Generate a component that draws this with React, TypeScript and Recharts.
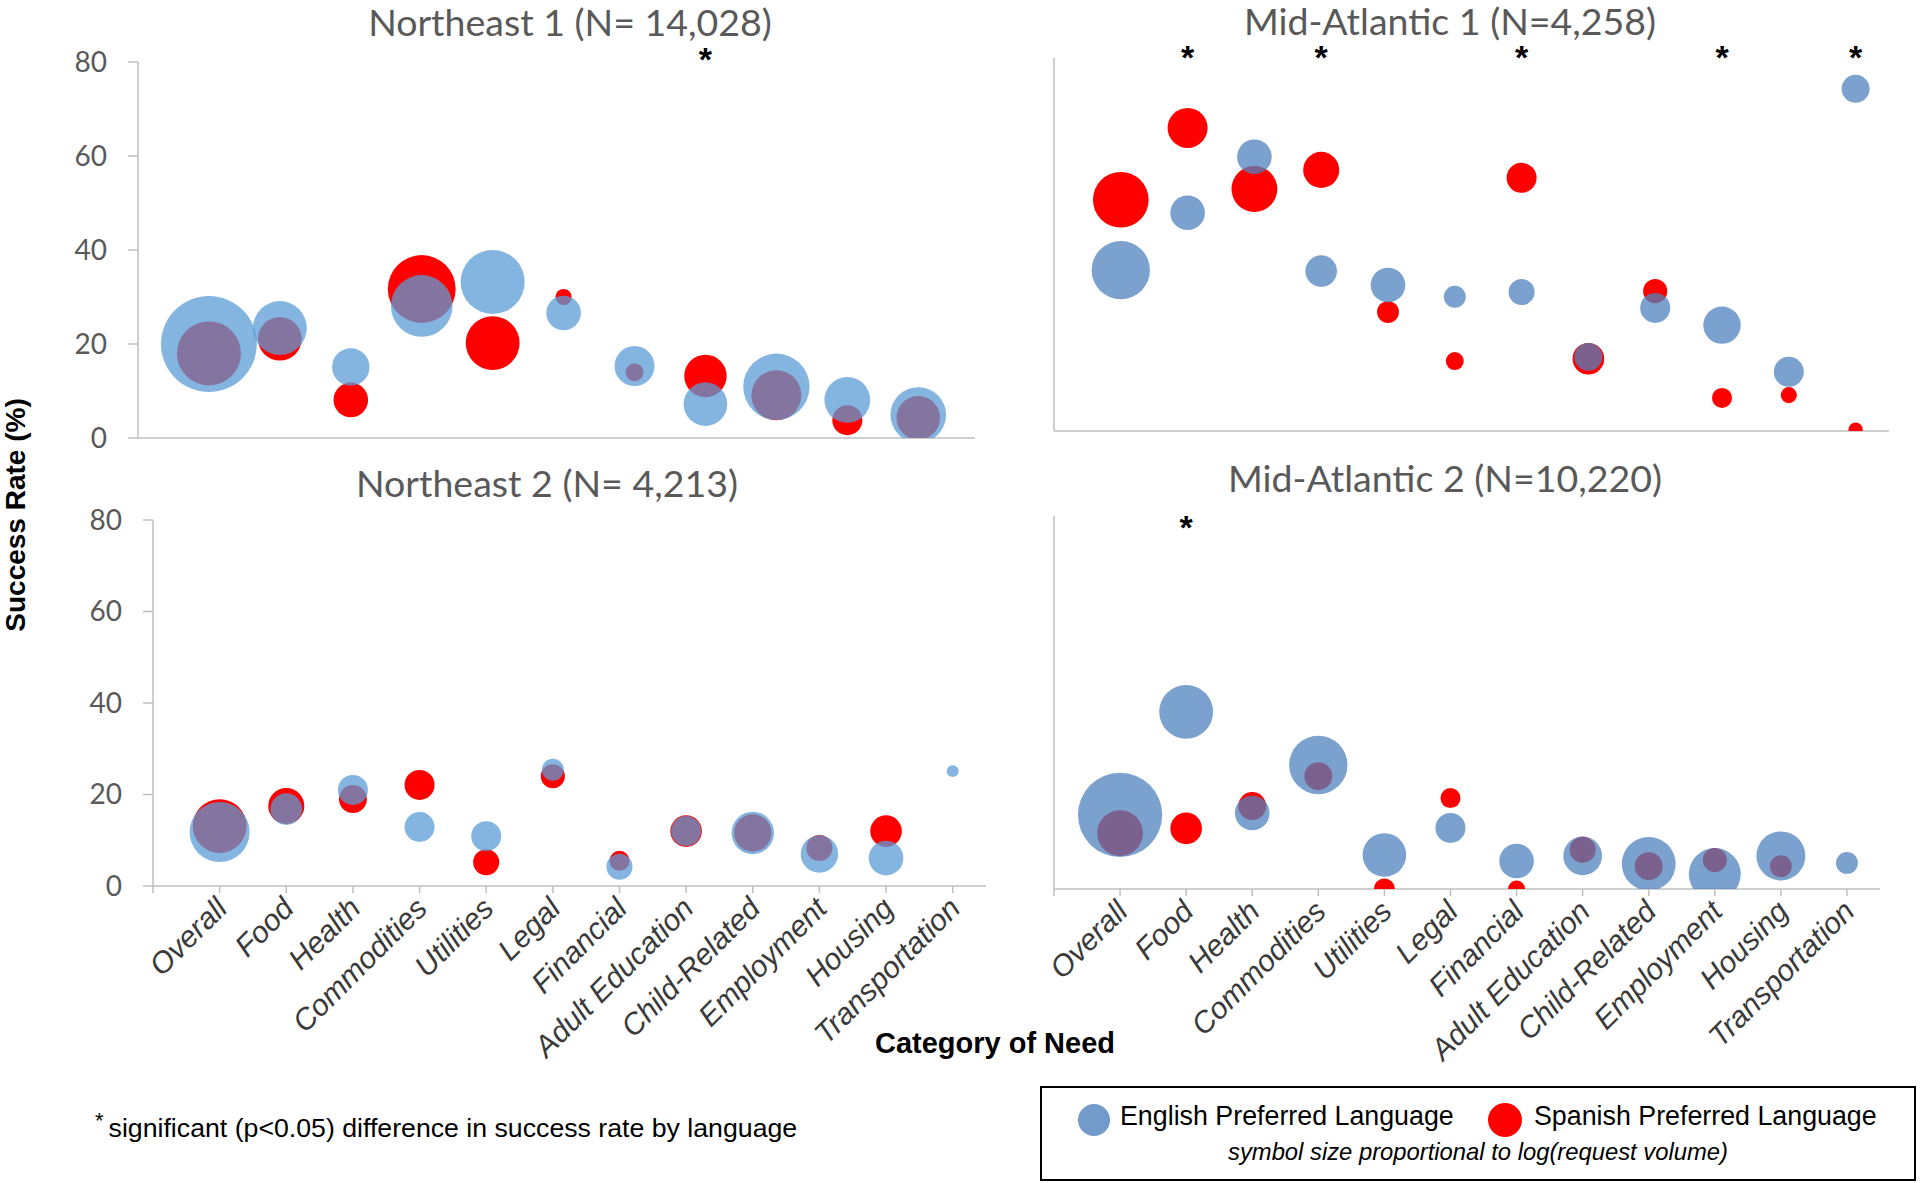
import React from 'react';
import { ReferenceDot, Scatter, ScatterChart, XAxis, YAxis, ZAxis } from 'recharts';

const categories = [
  'Overall', 'Food', 'Health', 'Commodities', 'Utilities', 'Legal', 'Financial',
  'Adult Education', 'Child-Related', 'Employment', 'Housing', 'Transportation',
];
const yTicks = [0, 20, 40, 60, 80];

// success rate (%) and bubble size (relative log request volume) per category
// Northeast 1 only reports 11 categories
const ne1English = [20, 23.4, 15.1, 28.1, 33.2, 26.6, 15.3, 7.2, 10.9, 8.1, 4.9];
const ne1EnglishSize = [92, 29, 14, 38, 41, 12, 16, 19, 44, 21, 31];
const ne1Spanish = [18, 21.1, 8.1, 31.7, 20.2, 30, 14, 13.2, 9.1, 3.8, 4.3];
const ne1SpanishSize = [41, 19, 12, 46, 29, 2.6, 3.2, 18, 25, 9, 19];
const ne1Significant = [8];

const ma1English = [34.5, 46.8, 58.8, 34.3, 31.3, 28.8, 29.8, 15.9, 26.4, 22.7, 12.7, 73.4];
const ma1EnglishSize = [34, 12, 12, 10, 12, 4.8, 6.8, 7.8, 9, 14, 9, 7.8];
const ma1Spanish = [49.6, 65, 51.9, 56, 25.5, 15, 54.3, 15.5, 30, 7.1, 7.7, 0.3];
const ma1SpanishSize = [31, 16, 21, 13, 4.8, 3.2, 9, 10, 5.8, 4, 2.6, 2];
const ma1Significant = [2, 4, 7, 10, 12];

const ne2English = [11.8, 16.8, 21, 12.9, 10.9, 25.4, 4.2, 12, 11.6, 7, 6.1, 25.1];
const ne2EnglishSize = [36, 10, 9, 9, 9, 4.8, 6.8, 9, 18, 14, 12, 1.4];
const ne2Spanish = [13.1, 17.5, 19, 22.1, 5.2, 24, 5.5, 12, 11.6, 8.3, 12, null];
const ne2SpanishSize = [29, 13, 7.8, 9, 6.8, 5.8, 4, 10, 14, 6.8, 10, null];
const ne2Significant: number[] = [];

const ma2English = [15.9, 38, 16.3, 26.6, 7.3, 13.1, 6, 7.1, 5.4, 3.2, 7.1, 5.6];
const ma2EnglishSize = [71, 29, 12, 34, 19, 9, 12, 15, 29, 27, 24, 4.8];
const ma2Spanish = [12, 13, 17.8, 24.2, 0, 19.5, 0, 8.4, 4.9, 6.2, 4.9, null];
const ma2SpanishSize = [21, 10, 7.8, 7.8, 4.4, 4, 2.9, 6.8, 7.8, 5.8, 4.8, null];
const ma2Significant = [2];

type Point = { x: number; y: number; z: number };

const toPoints = (values: (number | null)[], sizes: (number | null)[]): Point[] =>
  values.flatMap((v, i) => (v == null ? [] : [{ x: i + 1, y: v, z: sizes[i] as number }]));

const AXIS = '#BFBFBF';
const CALIBRI = 'Lato, "Open Sans", sans-serif';
const ARIAL = '"Liberation Sans", Arial, sans-serif';

const CategoryTick = (props: any) => {
  const { x, y, payload } = props;
  const label = categories[payload.value - 1];
  if (!label) return <g />;
  return (
    <g transform={`translate(${x - 7},${y - 1}) rotate(-45)`}>
      <text x={0} y={0} dy={23} textAnchor="end" fontFamily={ARIAL} fontStyle="italic" fontSize={30} fill="#3a3a3a">
        {label}
      </text>
    </g>
  );
};

interface PanelProps {
  left: number;
  top: number;
  width: number;
  height: number;
  margin: { top: number; right: number; bottom: number; left: number };
  xMax: number;
  count: number;
  english: Point[];
  spanish: Point[];
  blue: string;
  categoryLabels: boolean;
  valueLabels: boolean;
  stars: number[];
  starDy: number;
}

const Panel = (p: PanelProps) => {
  const xTicks = Array.from({ length: p.count + 1 }, (_, i) => i);
  return (
    <div style={{ position: 'absolute', left: p.left, top: p.top }}>
      <ScatterChart width={p.width} height={p.height} margin={p.margin}>
        <XAxis
          type="number"
          dataKey="x"
          domain={[0, p.xMax]}
          ticks={xTicks}
          interval={0}
          allowDataOverflow
          axisLine={{ stroke: AXIS, strokeWidth: 1.5 }}
          tickLine={{ stroke: AXIS, strokeWidth: 1.5 }}
          tickSize={7}
          tickMargin={2}
          height={p.categoryLabels ? 280 : 30}
          tick={p.categoryLabels ? <CategoryTick /> : false}
        />
        <YAxis
          type="number"
          dataKey="y"
          domain={[0, 80]}
          ticks={yTicks}
          allowDataOverflow
          width={80}
          axisLine={{ stroke: AXIS, strokeWidth: 1.5 }}
          tickLine={{ stroke: AXIS, strokeWidth: 1.5 }}
          tickSize={10}
          tickMargin={21}
          tick={p.valueLabels ? { fill: '#595959', fontSize: 28, fontFamily: CALIBRI } : false}
        />
        <ZAxis type="number" dataKey="z" domain={[0, 100]} range={[0, 7854]} />
        <Scatter data={p.spanish} fill="#FF0000" isAnimationActive={false} />
        <Scatter data={p.english} fill={p.blue} isAnimationActive={false} />
        {p.stars.map((s) => (
          <ReferenceDot
            key={s}
            x={s}
            y={80}
            ifOverflow="visible"
            shape={(sp: any) => (
              <text x={sp.cx} y={sp.cy + p.starDy + 20} textAnchor="middle" fontFamily={ARIAL} fontWeight="bold" fontSize={34} fill="#000">
                *
              </text>
            )}
          />
        ))}
      </ScatterChart>
    </div>
  );
};

const LEFT_BLUE = 'rgba(91,155,213,0.75)';
const RIGHT_BLUE = 'rgba(79,129,189,0.75)';

export default function App() {
  return (
    <div style={{ position: 'absolute', left: 0, top: 0, width: 1920, height: 1183, background: '#fff', overflow: 'hidden' }}>
      <Panel
        left={0} top={0} width={1000} height={470}
        margin={{ top: 62, right: 25, bottom: 2, left: 58 }}
        xMax={11.8} count={11}
        english={toPoints(ne1English, ne1EnglishSize)}
        spanish={toPoints(ne1Spanish, ne1SpanishSize)}
        blue={LEFT_BLUE} categoryLabels={false} valueLabels
        stars={ne1Significant} starDy={-11}
      />
      <Panel
        left={960} top={0} width={960} height={470}
        margin={{ top: 58, right: 31, bottom: 9, left: 14 }}
        xMax={12.5} count={12}
        english={toPoints(ma1English, ma1EnglishSize)}
        spanish={toPoints(ma1Spanish, ma1SpanishSize)}
        blue={RIGHT_BLUE} categoryLabels={false} valueLabels={false}
        stars={ma1Significant} starDy={-9}
      />
      <Panel
        left={0} top={470} width={1000} height={713}
        margin={{ top: 50, right: 14, bottom: 17, left: 73 }}
        xMax={12.5} count={12}
        english={toPoints(ne2English, ne2EnglishSize)}
        spanish={toPoints(ne2Spanish, ne2SpanishSize)}
        blue={LEFT_BLUE} categoryLabels valueLabels
        stars={ne2Significant} starDy={0}
      />
      <Panel
        left={960} top={470} width={960} height={713}
        margin={{ top: 46, right: 40, bottom: 14, left: 14 }}
        xMax={12.5} count={12}
        english={toPoints(ma2English, ma2EnglishSize)}
        spanish={toPoints(ma2Spanish, ma2SpanishSize)}
        blue={RIGHT_BLUE} categoryLabels valueLabels={false}
        stars={ma2Significant} starDy={3}
      />
      <svg width={1920} height={1183} style={{ position: 'absolute', left: 0, top: 0, pointerEvents: 'none' }}>
        <g fontFamily={CALIBRI} fontSize={37.5} fill="#595959" textAnchor="middle">
          <text x={570} y={36}>Northeast 1 (N= 14,028)</text>
          <text x={1450} y={35}>Mid-Atlantic 1 (N=4,258)</text>
          <text x={547} y={497}>Northeast 2 (N= 4,213)</text>
          <text x={1445} y={492}>Mid-Atlantic 2 (N=10,220)</text>
        </g>
        <text x={25} y={515} transform="rotate(-90 25 515)" textAnchor="middle" fontFamily={ARIAL} fontWeight="bold" fontSize={28} fill="#000">
          Success Rate (%)
        </text>
        <text x={995} y={1053} textAnchor="middle" fontFamily={ARIAL} fontWeight="bold" fontSize={29} fill="#000">
          Category of Need
        </text>
        <text x={95} y={1137} fontFamily={ARIAL} fontSize={26.7} fill="#000">
          <tspan fontSize={22} dy={-9}>*</tspan>
          <tspan dx={5} dy={9}>significant (p&lt;0.05) difference in success rate by language</tspan>
        </text>
        <rect x={1041} y={1087} width={874} height={93} fill="#fff" stroke="#000" strokeWidth={2} />
        <circle cx={1094} cy={1120} r={16} fill="#4F81BD" fillOpacity={0.8} />
        <text x={1120} y={1125} fontFamily={ARIAL} fontSize={26.8} fill="#000">English Preferred Language</text>
        <circle cx={1505} cy={1120} r={17} fill="#FF0000" />
        <text x={1534} y={1125} fontFamily={ARIAL} fontSize={26.8} fill="#000">Spanish Preferred Language</text>
        <text x={1478} y={1160} textAnchor="middle" fontFamily={ARIAL} fontStyle="italic" fontSize={23.8} fill="#000">
          symbol size proportional to log(request volume)
        </text>
      </svg>
    </div>
  );
}
